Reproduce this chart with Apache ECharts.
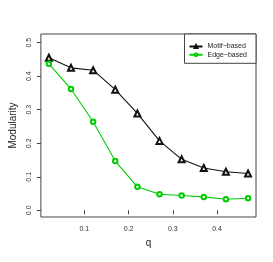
<!DOCTYPE html>
<html>
<head>
<meta charset="utf-8">
<script src="https://cdn.jsdelivr.net/npm/echarts@6/dist/echarts.min.js"></script>
<style>html,body{margin:0;padding:0;background:#fff}#c{width:273px;height:262px}</style>
</head>
<body>
<div id="c"></div>
<script>
var qValues = [0.02, 0.07, 0.12, 0.17, 0.22, 0.27, 0.32, 0.37, 0.42, 0.47];
var motifBased = [0.455, 0.425, 0.418, 0.360, 0.289, 0.207, 0.152, 0.126, 0.115, 0.110];
var edgeBased = [0.437, 0.362, 0.264, 0.147, 0.070, 0.048, 0.044, 0.040, 0.033, 0.036];
var xTicks = [0.1, 0.2, 0.3, 0.4];
var yTicks = [0.0, 0.1, 0.2, 0.3, 0.4, 0.5];

function pairs(xs, ys) { return xs.map(function (x, i) { return [x, ys[i]]; }); }

var font = 'Liberation Sans, Arial, sans-serif';
var chart = echarts.init(document.getElementById('c'), null, { renderer: 'canvas' });
chart.setOption({
  animation: false,
  backgroundColor: '#fff',
  grid: { left: 34, right: 17, top: 34, bottom: 45, show: true, borderColor: '#444', borderWidth: 1, backgroundColor: 'transparent' },
  xAxis: {
    type: 'value', min: 0.002, max: 0.488,
    name: 'q', nameLocation: 'middle', nameGap: 16,
    nameTextStyle: { fontFamily: font, fontSize: 10, color: '#222' },
    axisLine: { show: false },
    splitLine: { show: false },
    axisTick: { show: true, inside: false, length: 4, lineStyle: { color: '#444' }, customValues: xTicks },
    axisLabel: { customValues: xTicks, margin: 9, fontFamily: font, fontSize: 7, color: '#333', formatter: function (v) { return v.toFixed(1); } }
  },
  yAxis: {
    type: 'value', min: -0.02, max: 0.526,
    name: 'Modularity', nameLocation: 'middle', nameGap: 19, nameRotate: 90,
    nameTextStyle: { fontFamily: font, fontSize: 10, color: '#222' },
    axisLine: { show: false },
    splitLine: { show: false },
    axisTick: { show: true, inside: false, length: 4, lineStyle: { color: '#444' }, customValues: yTicks },
    axisLabel: { customValues: yTicks, rotate: 90, margin: 8, fontFamily: font, fontSize: 7, color: '#333', formatter: function (v) { return v.toFixed(1); } }
  },
  legend: {
    orient: 'vertical', right: 17, top: 34,
    padding: [9, 9, 5, 4],
    itemWidth: 13, itemHeight: 3.5, itemGap: 1.3,
    backgroundColor: '#fff', borderColor: '#444', borderWidth: 1, borderRadius: 0,
    textStyle: { fontFamily: font, fontSize: 7, color: '#222', lineHeight: 6 },
    data: ['Motif\u2212based', 'Edge\u2212based']
  },
  series: [
    {
      name: 'Motif\u2212based', type: 'line', data: pairs(qValues, motifBased),
      symbol: 'emptyTriangle', symbolSize: 6, showAllSymbol: true,
      lineStyle: { color: '#111', width: 1.1 }, itemStyle: { color: '#111', borderWidth: 0.9 }
    },
    {
      name: 'Edge\u2212based', type: 'line', data: pairs(qValues, edgeBased),
      symbol: 'emptyCircle', symbolSize: 4.5, showAllSymbol: true,
      lineStyle: { color: '#00cd00', width: 1.1 }, itemStyle: { color: '#00cd00', borderWidth: 0.9 }
    }
  ]
});
</script>
</body>
</html>
